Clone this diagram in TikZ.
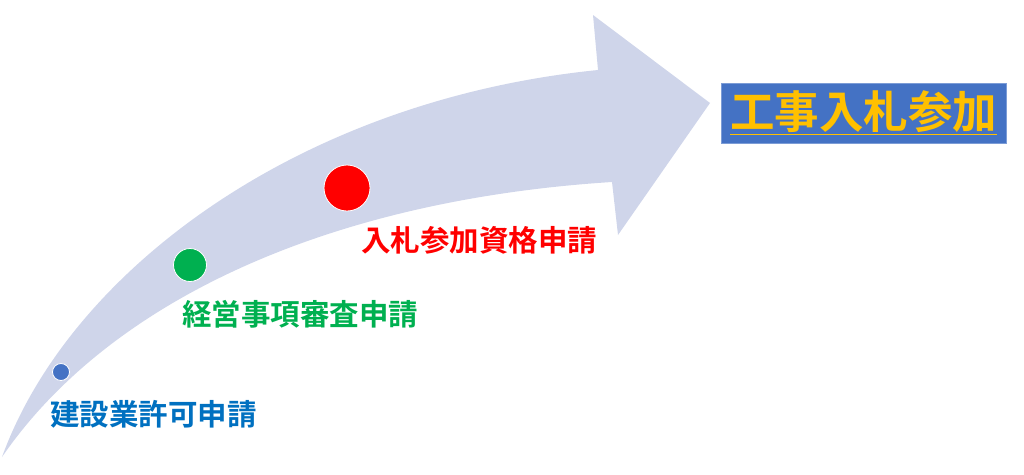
\documentclass[tikz,border=0pt]{standalone}
\usepackage{fontspec}
\newfontfamily\jp{Noto Sans CJK JP}[BoldFont={* Bold}]
\definecolor{arrowfill}{HTML}{CFD5EA}
\definecolor{mblue}{HTML}{4472C4}
\definecolor{tblue}{HTML}{0070C0}
\definecolor{tgreen}{HTML}{00B050}
\definecolor{tred}{HTML}{FF0000}
\definecolor{tgold}{HTML}{FFC000}
\tikzset{
  dot/.style={circle, draw=white, line width=0.8pt, inner sep=0pt},
  lbl/.style={anchor=west, inner sep=0pt, font=\jp\bfseries\fontsize{29.5}{32}\selectfont},
}
\begin{document}
\begin{tikzpicture}[x=1pt,y=-1pt]
\useasboundingbox (0,0) rectangle (1024,474);
% curved arrow
\fill[arrowfill] (2,457) .. controls (70,270) and (300,100) .. (598,70)
  -- (593,15) -- (710,103) -- (618,235) -- (612,182)
  .. controls (330,200) and (110,300) .. (2,457) -- cycle;
% milestones
\node[dot, fill=mblue, minimum size=17pt] (d1) at (61,372) {};
\node[dot, fill=tgreen, minimum size=33pt] (d2) at (190,265) {};
\node[dot, fill=tred, minimum size=46pt] (d3) at (347,188) {};
% labels
\node[lbl, text=tblue] (l1) at (50,414) {建設業許可申請};
\node[lbl, text=tgreen] (l2) at (182,314) {経営事項審査申請};
\node[lbl, text=tred] (l3) at (361,240) {入札参加資格申請};
% goal box
\node[fill=mblue, draw=mblue!70!white, line width=0.6pt, minimum width=285pt, minimum height=60pt, inner sep=0pt,
      text=tgold, font=\jp\bfseries\fontsize{44.5}{46}\selectfont] (goal) at (863.5,113) {\underline{工事入札参加}};
\end{tikzpicture}
\end{document}
